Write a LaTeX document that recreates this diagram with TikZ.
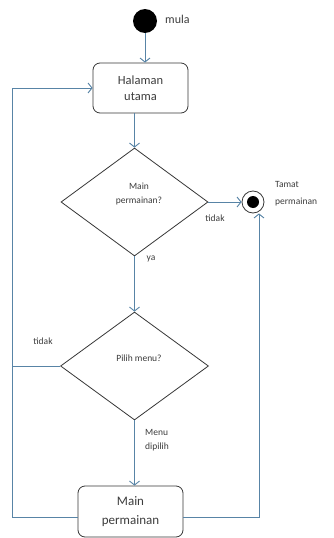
\documentclass[tikz,border=0pt]{standalone}
\usepackage{fontspec}
\setmainfont{Carlito}
\usetikzlibrary{arrows.meta,shapes.geometric}
\definecolor{conncol}{RGB}{88,132,166}
\definecolor{edgecol}{RGB}{55,55,55}
\definecolor{txtcol}{RGB}{60,60,60}
\begin{document}
\begin{tikzpicture}[x=1pt,y=-1pt,
  line/.style={draw=conncol, line width=0.9pt},
  arr/.style={line, -{Straight Barb[length=4pt,width=10pt,line width=0.9pt]}},
  actbox/.style={draw=edgecol, line width=0.8pt, rounded corners=7pt, fill=white, inner sep=0pt, text=txtcol, align=center},
  decis/.style={draw=edgecol, line width=0.8pt, diamond, inner sep=0pt, fill=white},
  lbl/.style={text=txtcol, inner sep=0pt, align=center, font=\fontsize{9.5}{14}\selectfont},
  lbll/.style={lbl, align=left, anchor=west}
]
\useasboundingbox (0,0) rectangle (333,538);
% start
\node[circle, fill=black, minimum size=24pt, inner sep=0pt] (start) at (145,21) {};
\node[lbll, font=\fontsize{12}{14}\selectfont] (mula) at (165,19) {mula};
% box 1
\node[actbox, minimum width=95pt, minimum height=50pt, font=\fontsize{12.5}{16}\selectfont] (box1) at (140.5,88) {Halaman\\utama};
% decision 1
\node[decis, minimum width=147pt, minimum height=108pt] (d1) at (134.5,202) {};
\node[lbl] (t1) at (139,193.5) {Main\\permainan?};
% end
\node[circle, draw=edgecol, line width=0.8pt, minimum size=22pt, inner sep=0pt] (end) at (253,202) {};
\node[circle, fill=black, minimum size=12pt, inner sep=0pt] (endin) at (end.center) {};
\node[lbll, font=\fontsize{9.5}{17}\selectfont] (tamat) at (275,194) {Tamat\\permainan};
% decision 2
\node[decis, minimum width=148pt, minimum height=108pt] (d2) at (134.5,366) {};
\node[lbl] (t2) at (139,358) {Pilih menu?};
% box 2
\node[actbox, minimum width=105pt, minimum height=51pt, font=\fontsize{13}{19}\selectfont] (box2) at (130.5,511.5) {Main\\permainan};
% labels
\node[lbl] (tidak1) at (215,218) {tidak};
\node[lbl] (ya) at (151,259) {ya};
\node[lbl] (tidak2) at (43,341) {tidak};
\node[lbll] (menu) at (145,440) {Menu\\dipilih};
% coordinates
\coordinate (lc) at (12,517);
\coordinate (rc) at (259,517);
\coordinate (ljoin) at (12,366);
% connectors
\draw[arr] (start) -- (start |- box1.north);
\draw[arr] (d1.north |- box1.south) -- (d1.north);
\draw[arr] (d1.east) -- (end.west);
\draw[arr] (d1.south) -- (d2.north);
\draw[arr] (d2.south) -- (d2.south |- box2.north);
\draw[line] (d2.west) -- (ljoin);
\draw[arr] (box2.west |- lc) -- (lc) -- (lc |- box1.west) -- (box1.west);
\draw[arr] (box2.east |- rc) -- (rc) -- (rc |- end.south);
\end{tikzpicture}
\end{document}
